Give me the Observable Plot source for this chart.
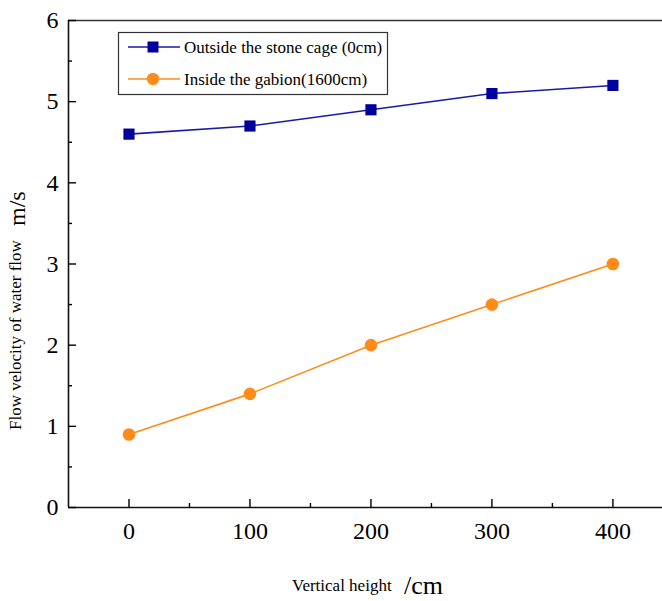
<!DOCTYPE html>
<html>
<head>
<meta charset="utf-8">
<script src="https://cdn.jsdelivr.net/npm/d3@7"></script>
<script src="https://cdn.jsdelivr.net/npm/@observablehq/plot@0.6"></script>
<style>
  html, body { margin: 0; padding: 0; background: #fff; overflow: hidden; }
  svg { display: block; }
  svg text { font-family: 'Liberation Serif', 'Times New Roman', serif; }
</style>
</head>
<body>
<div id="chart"></div>
<script>
// ---- data ----
const heights = [0, 100, 200, 300, 400];
const outsideVelocity = [4.6, 4.7, 4.9, 5.1, 5.2];
const insideVelocity = [0.9, 1.4, 2.0, 2.5, 3.0];
const seriesNames = ["Outside the stone cage (0cm)", "Inside the gabion(1600cm)"];
const xTicks = [0, 100, 200, 300, 400];
const xMinorTicks = [50, 150, 250, 350];
const yTicks = [0, 1, 2, 3, 4, 5, 6];
const yMinorTicks = [0.5, 1.5, 2.5, 3.5, 4.5, 5.5];
const xLabel = "Vertical height";
const xUnit = "/cm";
const yLabel = "Flow velocity of water flow";
const yUnit = "m/s";

const blue = "#00009C";
const blueLine = "#1A1AAA";
const orange = "#FF8C1A";
const font = "'Liberation Serif', 'Times New Roman', serif";

const outside = heights.map((h, i) => ({h, v: outsideVelocity[i]}));
const inside = heights.map((h, i) => ({h, v: insideVelocity[i]}));

const plot = Plot.plot({
  width: 662,
  height: 601,
  marginLeft: 68,
  marginRight: 0,
  marginTop: 20,
  marginBottom: 94,
  style: {fontFamily: font, color: "#000", background: "#fff"},
  x: {domain: [-50, 441], label: null},
  y: {domain: [0, 6], label: null},
  marks: [
    Plot.ruleX([-50], {stroke: "#111", strokeWidth: 1.6}),
    Plot.ruleY([0], {stroke: "#111", strokeWidth: 1.6}),
    Plot.ruleY([6], {stroke: "#333", strokeWidth: 1.6}),
    Plot.line(outside, {x: "h", y: "v", stroke: blueLine, strokeWidth: 1.6}),
    Plot.line(inside, {x: "h", y: "v", stroke: orange, strokeWidth: 1.6}),
    Plot.dot(outside, {x: "h", y: "v", symbol: "square", r: 6.3, fill: blue, stroke: "none"}),
    Plot.dot(inside, {x: "h", y: "v", symbol: "circle", r: 6.3, fill: orange, stroke: "none"}),
    Plot.axisY({ticks: yTicks, tickSize: -8, fill: null, strokeWidth: 1.4, label: null}),
    Plot.axisY({ticks: yMinorTicks, tickSize: -4, fill: null, strokeWidth: 1.4, label: null}),
    Plot.axisY({ticks: yTicks, tickSize: 0, tickPadding: 10, fontSize: 24, fontFamily: font, fill: "#000", tickFormat: d => String(d), label: null}),
    Plot.axisX({ticks: xTicks, tickSize: -8, fill: null, strokeWidth: 1.4, label: null}),
    Plot.axisX({ticks: xMinorTicks, tickSize: -4, fill: null, strokeWidth: 1.4, label: null}),
    Plot.axisX({ticks: xTicks, tickSize: 0, tickPadding: 14, fontSize: 24, fontFamily: font, fill: "#000", tickFormat: d => String(d), label: null})
  ]
});

document.getElementById("chart").appendChild(plot);

// ---- axis titles and legend ----
const svg = d3.select(plot);
const g = svg.append("g").attr("font-family", font).attr("fill", "#000").attr("text-anchor", "start");

// y-axis title
g.append("text")
  .attr("transform", "translate(21,430) rotate(-90)")
  .attr("text-anchor", "start")
  .attr("font-size", 17)
  .text(yLabel);
g.append("text")
  .attr("transform", "translate(25,226) rotate(-90)")
  .attr("text-anchor", "start")
  .attr("font-size", 24)
  .text(yUnit);

// x-axis title
g.append("text").attr("x", 292).attr("y", 591).attr("text-anchor", "start").attr("font-size", 17).text(xLabel);
g.append("text").attr("x", 404).attr("y", 594).attr("text-anchor", "start").attr("font-size", 26).text(xUnit);

// legend
const lg = svg.append("g").attr("font-family", font).attr("text-anchor", "start");
lg.append("rect").attr("x", 118.5).attr("y", 32.5).attr("width", 269).attr("height", 62)
  .attr("fill", "#fff").attr("stroke", "#333").attr("stroke-width", 1.2);
const rows = [
  {name: seriesNames[0], color: blue, line: blueLine, shape: "square", y: 47},
  {name: seriesNames[1], color: orange, line: orange, shape: "circle", y: 79}
];
rows.forEach(r => {
  lg.append("line").attr("x1", 128).attr("x2", 180).attr("y1", r.y).attr("y2", r.y)
    .attr("stroke", r.line).attr("stroke-width", 1.6);
  if (r.shape === "square") {
    lg.append("rect").attr("x", 153 - 5.5).attr("y", r.y - 5.5).attr("width", 11).attr("height", 11).attr("fill", r.color);
  } else {
    lg.append("circle").attr("cx", 153).attr("cy", r.y).attr("r", 6.2).attr("fill", r.color);
  }
  lg.append("text").attr("x", 184).attr("y", r.y).attr("dy", "0.33em")
    .attr("text-anchor", "start")
    .attr("font-size", 17).attr("fill", "#000").text(r.name);
});
</script>
</body>
</html>
